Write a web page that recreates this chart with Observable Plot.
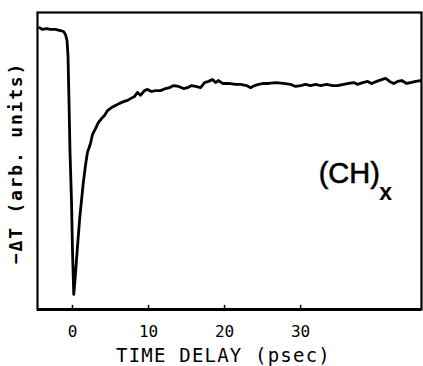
<!DOCTYPE html>
<html>
<head>
<meta charset="utf-8">
<script src="https://cdn.jsdelivr.net/npm/d3@7"></script>
<script src="https://cdn.jsdelivr.net/npm/@observablehq/plot@0.6"></script>
<style>
  html, body { margin: 0; padding: 0; background: #fff; }
  #chart svg { display: block; }
</style>
</head>
<body>
<div id="chart"></div>
<script>
// Time delay (psec) and -ΔT (arbitrary units, 0–100 across the frame)
const delay = [
  -4.34, -3.95, -3.42, -2.89, -2.24, -1.58, -1.18, -0.92, -0.72, -0.59, -0.46, -0.33, -0.13, 0.0, 0.17,
  0.33, 0.62, 0.96, 1.41, 1.71, 1.97, 2.37, 2.63, 3.03, 3.42, 3.82, 4.21, 4.61, 5.13, 5.66,
  6.18, 6.71, 7.24, 7.63, 8.16, 8.55, 8.95, 9.47, 9.87, 10.39, 10.92, 11.58, 12.24, 12.76, 13.29,
  13.95, 14.61, 15.13, 15.66, 16.18, 16.84, 17.37, 17.89, 18.42, 18.82, 19.21, 19.74, 20.53, 21.45,
  22.11, 22.89, 23.42, 23.95, 24.47, 25.13, 25.79, 26.71, 27.76, 28.68, 29.34, 30.0, 30.66, 31.32,
  31.97, 32.63, 33.42, 34.21, 34.87, 35.66, 36.32, 36.97, 37.5, 38.16, 38.82, 39.34, 40.0, 40.66,
  41.18, 41.71, 42.24, 42.76, 43.29, 43.95, 44.47, 45.13, 45.79
];
const signal = [
  94.9, 94.3, 94.6, 94.3, 94.3, 93.9, 93.6, 92.6, 90.6, 85.5, 70.4, 53.5, 36.7, 19.9, 5.1,
  9.8, 19.9, 31.0, 42.4, 48.5, 52.9, 55.9, 58.9, 60.9, 63.0, 64.3, 65.3, 67.0, 68.0, 68.7,
  69.4, 70.0, 70.4, 71.0, 71.7, 73.1, 72.1, 73.7, 74.1, 73.4, 73.7, 73.7, 74.4, 74.7, 75.4,
  75.1, 74.4, 74.7, 75.4, 75.1, 74.7, 76.4, 76.8, 77.4, 76.4, 77.1, 76.1, 76.1, 75.8,
  75.8, 75.4, 74.7, 75.4, 75.8, 76.1, 76.1, 76.4, 76.1, 75.8, 75.1, 75.4, 75.8, 75.4,
  75.8, 75.4, 75.8, 75.4, 75.4, 75.8, 76.1, 76.4, 75.8, 76.4, 76.8, 76.1, 76.8, 77.4,
  77.8, 76.8, 76.1, 76.8, 77.1, 76.1, 76.4, 76.8, 77.1
];
const xTicks = [0, 10, 20, 30];
const xDomain = [-4.6, 45.9];
const yDomain = [0, 100];
const xLabel = "TIME DELAY (psec)";
const yLabel = "\u2212\u0394T (arb. units)";
const sampleName = ["(CH)"];
const sampleSub = ["x"];
const sampleAt = [{x: 36.4, y: 45.8}];
const subAt = [{x: 41.2, y: 39.2}];

const trace = delay.map((d, i) => ({t: d, v: signal[i]}));

const chart = Plot.plot({
  width: 423,
  height: 366,
  marginLeft: 37,
  marginRight: 2,
  marginTop: 12,
  marginBottom: 57,
  style: {fontFamily: "'DejaVu Sans Mono', monospace", fontSize: "16px", color: "#000", background: "#fff"},
  x: {domain: xDomain, ticks: xTicks, label: null},
  y: {domain: yDomain, axis: null, label: null},
  marks: [
    Plot.frame({stroke: "#000", strokeWidth: 2.2}),
    Plot.ruleY([0], {stroke: "#000", strokeWidth: 3}),
    Plot.ruleX(xTicks, {y1: 0, y2: 1.4, stroke: "#000", strokeWidth: 1.5}),
    Plot.axisX(xTicks, {tickSize: 0, tickPadding: 16, fontSize: 16, label: null}),
    Plot.line(trace, {x: "t", y: "v", stroke: "#000", strokeWidth: 2.8, strokeLinejoin: "round", curve: "linear"}),
    Plot.text([xLabel], {frameAnchor: "bottom", textAnchor: "middle", dx: -6, dy: 52, fontSize: 19, text: d => d}),
    Plot.text([yLabel], {frameAnchor: "left", textAnchor: "middle", rotate: -90, dx: -21, dy: 2, fontSize: 18, fontWeight: "bold", text: d => d}),
    Plot.text(sampleAt, {x: "x", y: "y", text: () => sampleName[0], fontFamily: "'Liberation Sans', Arial, sans-serif", fontSize: 29, stroke: "#000", strokeWidth: 0.6, fill: "#000"}),
    Plot.text(subAt, {x: "x", y: "y", text: () => sampleSub[0], fontFamily: "'Liberation Sans', Arial, sans-serif", fontSize: 23, fontWeight: "bold"})
  ]
});
document.getElementById("chart").appendChild(chart);
// letter spacing for the monospaced plotter-style labels
chart.querySelectorAll("text").forEach(t => {
  const s = t.textContent;
  if (s === xLabel) t.setAttribute("letter-spacing", "1.2");
  if (s === yLabel) t.setAttribute("letter-spacing", "1.8");
});
</script>
</body>
</html>
